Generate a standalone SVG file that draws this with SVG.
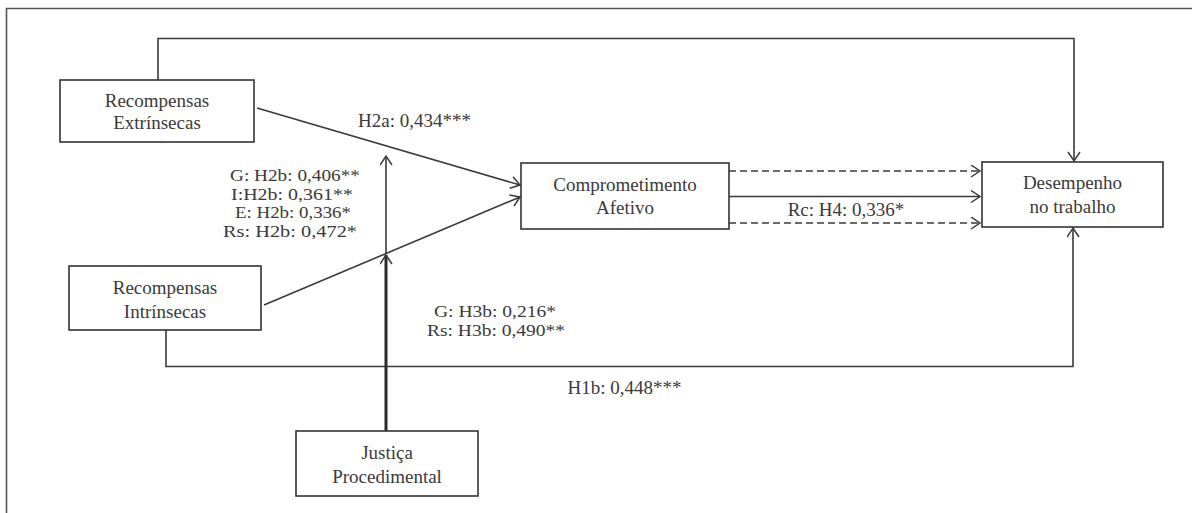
<svg xmlns="http://www.w3.org/2000/svg" width="1192" height="513" viewBox="0 0 1192 513">
<style>
.box{fill:#fff;stroke:#333;stroke-width:1.6}
.t{font-size:19px;fill:#3a3a3a;text-anchor:middle}
.s{font-size:17px}
.ln{fill:none;stroke:#3a3a3a;stroke-width:1.6}
.dash{fill:none;stroke:#3a3a3a;stroke-width:1.4;stroke-dasharray:7 4}
</style>
<defs>
<marker id="arr" markerUnits="userSpaceOnUse" markerWidth="14" markerHeight="14" refX="10" refY="6.5" orient="auto">
<path d="M1,0.5 L10,6.5 L1,12.5" fill="none" stroke="#3a3a3a" stroke-width="1.5"/>
</marker>
</defs>
<rect width="1192" height="513" fill="#fff"/>
<path d="M6.5,520 V8.5 H1200" fill="none" stroke="#555" stroke-width="1.6"/>
<g font-family="Liberation Serif, DejaVu Serif, serif">
<g id="connectors">
<path class="ln" d="M158,80 V38.5 H1074 V161" marker-end="url(#arr)"/>
<path class="ln" d="M166,330 V366.5 H1073 V228" marker-end="url(#arr)"/>
<path class="ln" d="M257,108 L520,185" marker-end="url(#arr)"/>
<path class="ln" d="M264,305 L520,197" marker-end="url(#arr)"/>
<path class="ln" d="M386,253 V156" marker-end="url(#arr)"/>
<path d="M386,431 V255" fill="none" stroke="#2a2a2a" stroke-width="3" marker-end="url(#arr)"/>
<path class="dash" d="M729,171 H980" marker-end="url(#arr)"/>
<path class="ln" d="M729,196.5 H980" marker-end="url(#arr)"/>
<path class="dash" d="M729,223 H980" marker-end="url(#arr)"/>
<text class="t" x="414.5" y="127">H2a: 0,434***</text>
<text class="t s" x="295" y="181" textLength="130" lengthAdjust="spacingAndGlyphs">G: H2b: 0,406**</text>
<text class="t s" x="292" y="199.5" textLength="122" lengthAdjust="spacingAndGlyphs">I:H2b: 0,361**</text>
<text class="t s" x="293" y="218" textLength="116" lengthAdjust="spacingAndGlyphs">E: H2b: 0,336*</text>
<text class="t s" x="290" y="236.5" textLength="134" lengthAdjust="spacingAndGlyphs">Rs: H2b: 0,472*</text>
<text class="t" x="846" y="216">Rc: H4: 0,336*</text>
<text class="t s" x="495" y="317" textLength="122" lengthAdjust="spacingAndGlyphs">G: H3b: 0,216*</text>
<text class="t s" x="496" y="336" textLength="138" lengthAdjust="spacingAndGlyphs">Rs: H3b: 0,490**</text>
<text class="t" x="624.5" y="394">H1b: 0,448***</text>
</g>
<g id="extrinsecas">
<rect class="box" x="60" y="80" width="194" height="62"/>
<text class="t" x="157" y="107">Recompensas</text>
<text class="t" x="157" y="129">Extrínsecas</text>
</g>
<g id="intrinsecas">
<rect class="box" x="69" y="266" width="192" height="64"/>
<text class="t" x="165" y="294">Recompensas</text>
<text class="t" x="165" y="318">Intrínsecas</text>
</g>
<g id="comprometimento">
<rect class="box" x="521" y="163" width="208" height="66"/>
<text class="t" x="625" y="191">Comprometimento</text>
<text class="t" x="625" y="214">Afetivo</text>
</g>
<g id="desempenho">
<rect class="box" x="982" y="162" width="181" height="65"/>
<text class="t" x="1072.5" y="189">Desempenho</text>
<text class="t" x="1072.5" y="213">no trabalho</text>
</g>
<g id="justica">
<rect class="box" x="296" y="431" width="182" height="65"/>
<text class="t" x="387" y="459">Justiça</text>
<text class="t" x="387" y="483">Procedimental</text>
</g>
</g>
</svg>
